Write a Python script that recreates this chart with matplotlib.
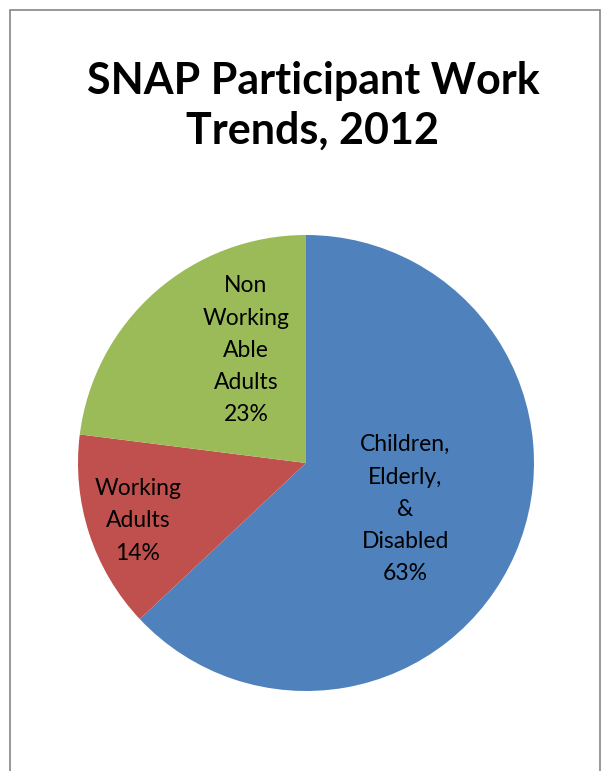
import matplotlib.pyplot as plt
import numpy as np
from matplotlib.patches import Rectangle

categories = ["Children,\nElderly,\n&\nDisabled", "Working\nAdults", "Non\nWorking\nAble\nAdults"]
shares = [63, 14, 23]
colors = ["#4F81BD", "#C0504D", "#9BBB59"]
# label centre: distance from pie centre (in radii) and angle in degrees
label_dist = [0.48, 0.78, 0.56]
label_angle = [-25.0, -161.0, 118.0]

plt.rcParams['font.family'] = ['Lato', 'DejaVu Sans']

W, H = 602, 771
fig = plt.figure(figsize=(W / 100, H / 100), dpi=100)

# grey frame round the chart (bottom edge falls off the picture)
fig.patches.append(Rectangle((10 / W, -0.05), 590 / W, 1.05 - 10 / H, transform=fig.transFigure,
                             fill=False, edgecolor="#868686", linewidth=1.2))

cx, cy, r = 306, 463, 228
ax = fig.add_axes([(cx - r) / W, (H - cy - r) / H, 2 * r / W, 2 * r / H])
ax.pie(shares, colors=colors, startangle=90, counterclock=False, radius=1,
       wedgeprops=dict(linewidth=0))
ax.set_xlim(-1, 1)
ax.set_ylim(-1, 1)
ax.set_aspect('equal')
ax.axis('off')

for name, val, d, a in zip(categories, shares, label_dist, label_angle):
    t = np.deg2rad(a)
    ax.text(d * np.cos(t), d * np.sin(t), f"{name}\n{val}%", ha='center', va='center',
            fontsize=16.5, linespacing=1.66, color='black')

fig.text(313 / W, 1 - 106 / H, "SNAP Participant Work\nTrends, 2012", ha='center', va='center',
         fontsize=31, fontweight='bold', linespacing=1.3)

fig.savefig("out.png", dpi=100)
